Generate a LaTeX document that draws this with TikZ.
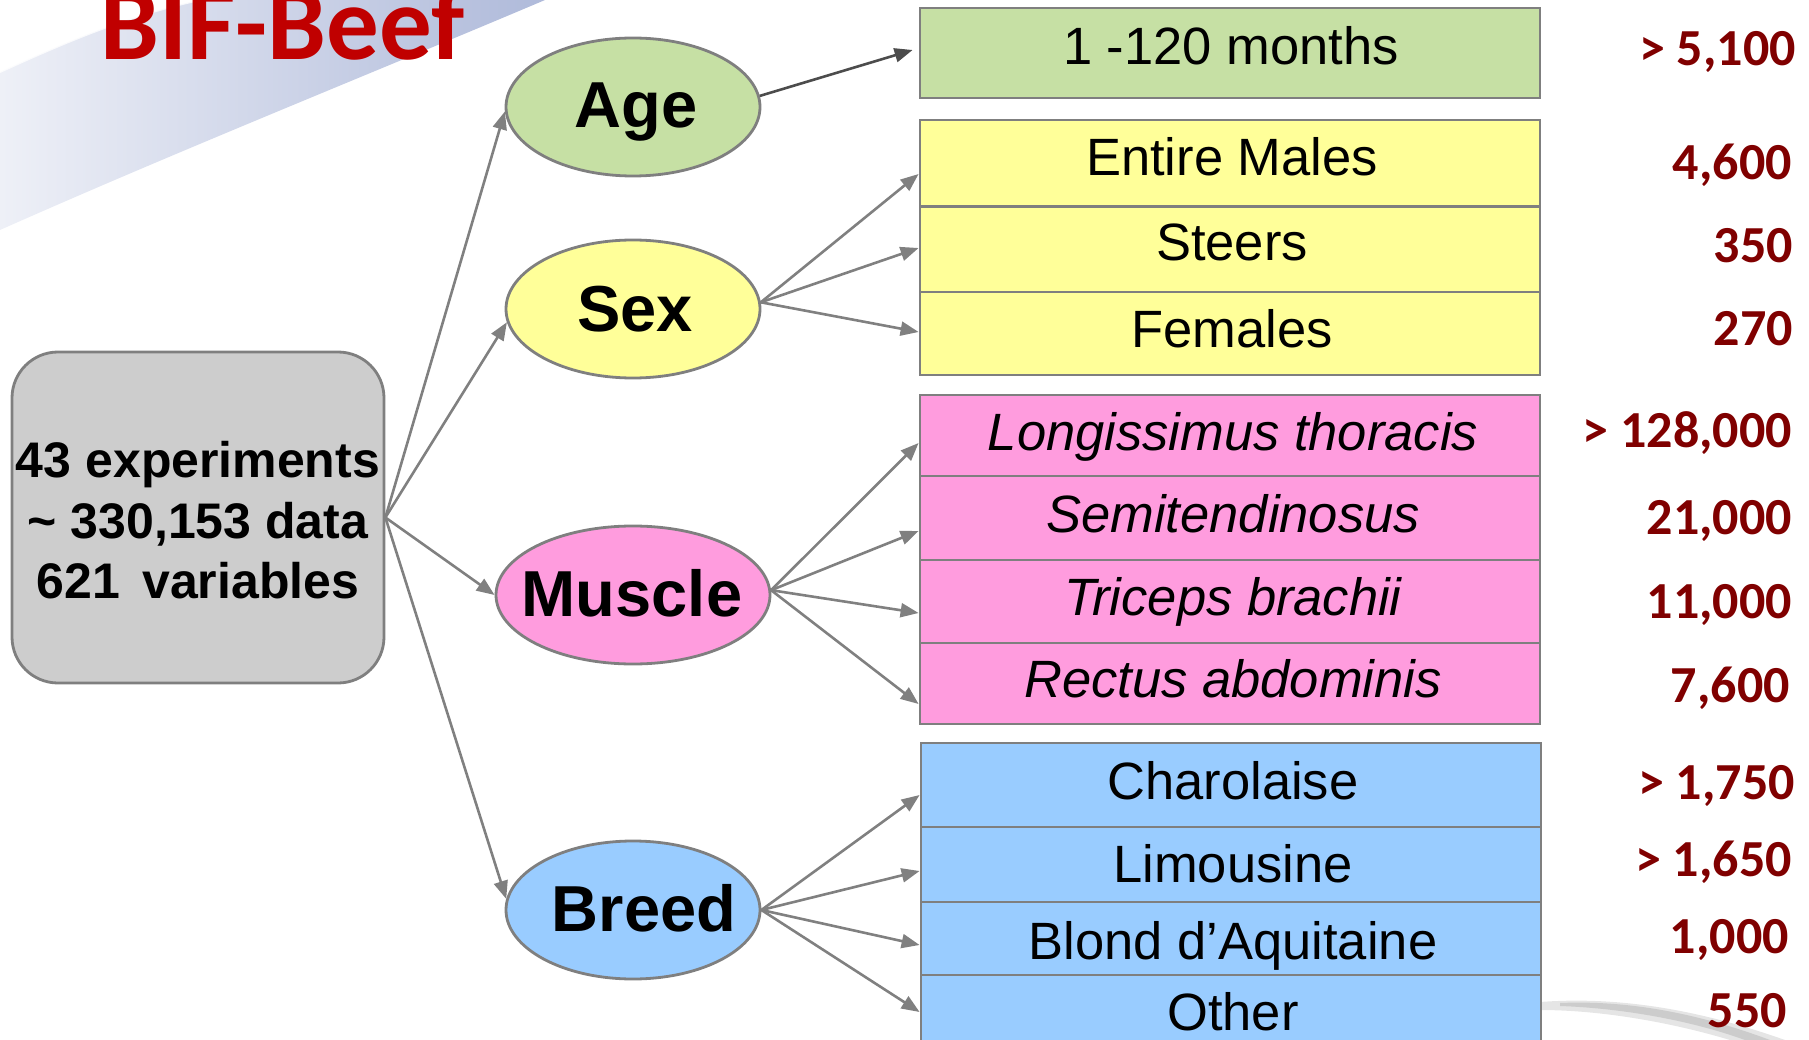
\documentclass[tikz,border=0pt]{standalone}
\usepackage{fontspec}
\setmainfont{Liberation Sans}
\newfontfamily\calib{Carlito}
\usetikzlibrary{arrows.meta,shapes.geometric}
\definecolor{bordc}{HTML}{7F7F7F}
\definecolor{arrc}{HTML}{808080}
\definecolor{agecol}{HTML}{C6E0A4}
\definecolor{sexcol}{HTML}{FFFF99}
\definecolor{muscol}{HTML}{FF9CDE}
\definecolor{brcol}{HTML}{99CCFF}
\definecolor{srccol}{HTML}{CDCDCD}
\definecolor{numc}{HTML}{800000}
\definecolor{titc}{HTML}{C00000}
\definecolor{bandL}{HTML}{EEF0F7}
\definecolor{bandR}{HTML}{AFBADA}
\tikzset{
  bord/.style={draw=bordc, line width=2.8pt},
  ell/.style={ellipse, bord, inner sep=0pt, minimum width=254pt, minimum height=138pt},
  row/.style={rectangle, bord, inner sep=0pt, minimum width=620pt},
  lbl/.style={font=\fontsize{65}{70}\selectfont\bfseries, anchor=base, inner sep=0pt},
  rowtxt/.style={font=\fontsize{52.5}{60}\selectfont, anchor=base, inner sep=0pt},
  srctxt/.style={font=\fontsize{50}{60}\selectfont\bfseries, anchor=base, inner sep=0pt},
  num/.style={font=\calib\bfseries\fontsize{52}{60}\selectfont, text=numc, anchor=base east, inner sep=0pt},
  arr/.style={draw=arrc, line width=2.6pt, -{Triangle[length=18pt,width=14pt]}},
}
\begin{document}
\begin{tikzpicture}[x=1pt,y=-1pt]
\useasboundingbox (0,0) rectangle (1809,1040);
% background swooshes
\shade[left color=bandL, right color=bandR]
  (0,72) .. controls (70,40) and (130,15) .. (200,0) -- (545,0)
  .. controls (380,70) and (180,150) .. (0,230) -- cycle;
\draw[white, line width=2pt, opacity=0.8] (0,72) .. controls (70,40) and (130,15) .. (200,0);
\fill[gray!20] (1540,1002) .. controls (1620,996) and (1700,1010) .. (1785,1040)
  -- (1730,1040) .. controls (1670,1022) and (1600,1010) .. (1540,1010) -- cycle;
\fill[gray!40] (1560,1003) .. controls (1630,1000) and (1700,1014) .. (1770,1040)
  -- (1745,1040) .. controls (1690,1020) and (1620,1008) .. (1560,1006) -- cycle;

% title
\node[anchor=base west, font=\calib\bfseries\fontsize{105}{110}\selectfont, text=titc, inner sep=0pt] (title) at (100,60) {BIF-Beef};

% source box
\node[rectangle, rounded corners=46pt, bord, fill=srccol, minimum width=372pt, minimum height=331pt, inner sep=0pt] (src) at (198,517.5) {};
\node[srctxt] (s1) at (198,477) {43 experiments};
\node[srctxt] (s2) at (198,538) {\textasciitilde{} 330,153 data};
\node[srctxt] (s3) at (198,598) {621\, variables};

% ellipses
\node[ell, fill=agecol] (age) at (633,107) {};
\node[ell, fill=sexcol] (sex) at (633,309) {};
\node[ell, fill=muscol, minimum width=274pt] (muscle) at (633,595) {};
\node[ell, fill=brcol] (breed) at (633,910) {};
\node[lbl] (lage) at (636,128) {Age};
\node[lbl] (lsex) at (635,332) {Sex};
\node[lbl] (lmus) at (632,616) {Muscle};
\node[lbl] (lbr) at (644,931) {Breed};

% rows
\node[row, fill=agecol, minimum height=90pt] (ra) at (1230,53) {};
\node[row, fill=sexcol, minimum height=86.5pt] (rs1) at (1230,163.25) {};
\node[row, fill=sexcol, minimum height=85.5pt] (rs2) at (1230,249.25) {};
\node[row, fill=sexcol, minimum height=83pt] (rs3) at (1230,333.5) {};
\node[row, fill=muscol, minimum height=81pt] (rm1) at (1230,435.5) {};
\node[row, fill=muscol, minimum height=84pt] (rm2) at (1230,518) {};
\node[row, fill=muscol, minimum height=83pt] (rm3) at (1230,601.5) {};
\node[row, fill=muscol, minimum height=81pt] (rm4) at (1230,683.5) {};
\node[row, fill=brcol, minimum height=84pt] (rb1) at (1231,785) {};
\node[row, fill=brcol, minimum height=75pt] (rb2) at (1231,864.5) {};
\node[row, fill=brcol, minimum height=73pt] (rb3) at (1231,938.5) {};
\node[row, fill=brcol, minimum height=77pt] (rb4) at (1231,1013.5) {};

% row texts
\node[rowtxt] (ta) at (1231,65) {1 -120 months};
\node[rowtxt] (ts1) at (1232,176) {Entire Males};
\node[rowtxt] (ts2) at (1232,261) {Steers};
\node[rowtxt] (ts3) at (1232,348) {Females};
\node[rowtxt, font=\fontsize{52.5}{60}\selectfont\itshape] (tm1) at (1233,450) {Longissimus thoracis};
\node[rowtxt, font=\fontsize{52.5}{60}\selectfont\itshape] (tm2) at (1233,532) {Semitendinosus};
\node[rowtxt, font=\fontsize{52.5}{60}\selectfont\itshape] (tm3) at (1233,615) {Triceps brachii};
\node[rowtxt, font=\fontsize{52.5}{60}\selectfont\itshape] (tm4) at (1233,697) {Rectus abdominis};
\node[rowtxt] (tb1) at (1233,799) {Charolaise};
\node[rowtxt] (tb2) at (1233,882) {Limousine};
\node[rowtxt] (tb3) at (1233,959) {Blond d’Aquitaine};
\node[rowtxt] (tb4) at (1233,1030) {Other};

% numbers
\node[num] (n1) at (1796,66) {> 5,100};
\node[num] (n2) at (1792,180) {4,600};
\node[num] (n3) at (1793,263) {350};
\node[num] (n4) at (1793,345) {270};
\node[num] (n5) at (1792,447) {> 128,000};
\node[num] (n6) at (1792,534) {21,000};
\node[num] (n7) at (1792,618) {11,000};
\node[num] (n8) at (1790,702) {7,600};
\node[num] (n9) at (1795,799) {> 1,750};
\node[num] (n10) at (1792,876) {> 1,650};
\node[num] (n11) at (1789,953) {1,000};
\node[num] (n12) at (1787,1027) {550};

% connectors
\draw[arr] (src.east) -- (age.182);
\draw[arr] (src.east) -- (sex.186);
\draw[arr] (src.east) -- (muscle.west);
\draw[arr] (src.east) -- (breed.175);

\draw[arr, draw=black!70] (age.5) -- ([xshift=-6pt,yshift=3pt]ra.west);

\draw[arr] (sex.3) -- ([yshift=-10.75pt]rs1.west);
\draw[arr] (sex.3) -- ([yshift=1.25pt]rs2.west);
\draw[arr] (sex.3) -- ([yshift=1.5pt]rs3.west);

\draw[arr] (muscle.2) -- ([yshift=-7.5pt]rm1.west);
\draw[arr] (muscle.2) -- ([yshift=-13pt]rm2.west);
\draw[arr] (muscle.2) -- ([yshift=-11.5pt]rm3.west);
\draw[arr] (muscle.2) -- ([yshift=-20.5pt]rm4.west);

\draw[arr] (breed.east) -- ([yshift=-10pt]rb1.west);
\draw[arr] (breed.east) -- ([yshift=-6.5pt]rb2.west);
\draw[arr] (breed.east) -- ([yshift=-6.5pt]rb3.west);
\draw[arr] (breed.east) -- ([yshift=1.5pt]rb4.west);
\end{tikzpicture}
\end{document}
